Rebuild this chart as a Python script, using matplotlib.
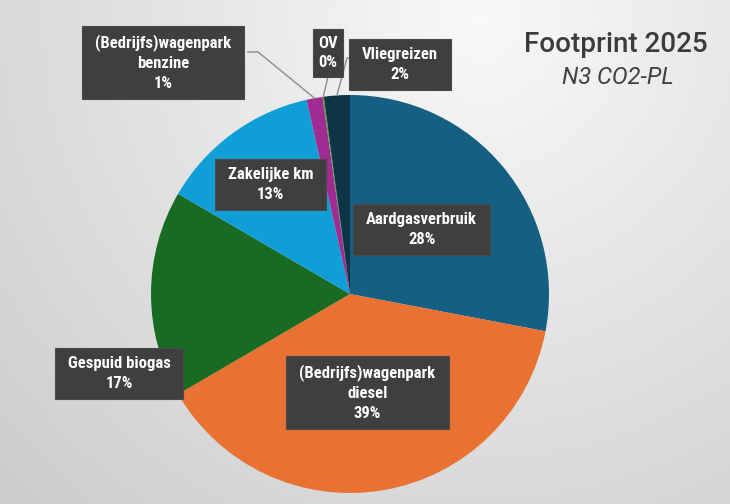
import numpy as np
import matplotlib
matplotlib.use("Agg")
import matplotlib.pyplot as plt
from matplotlib import font_manager
from matplotlib.patches import Rectangle

# data
categories = ["Aardgasverbruik", "(Bedrijfs)wagenpark\ndiesel", "Gespuid biogas",
              "Zakelijke km", "(Bedrijfs)wagenpark\nbenzine", "OV", "Vliegreizen"]
shares = [28.0, 38.6, 16.8, 13.1, 1.3, 0.1, 2.1]
colors = ["#156082", "#E97132", "#196B24", "#0F9ED5", "#A02B93", "#4EA72E", "#0E3448"]

title = "Footprint 2025"
subtitle = "N3 CO2-PL"

# label centres in pie-axes units (radius = 1)
label_pos = [(0.36, 0.325), (0.088, -0.495), (-1.161, -0.399), (-0.399, 0.55),
             (-0.94, 1.163), (-0.111, 1.211), (0.249, 1.153)]
# leader line elbows for the small slices (index -> points before the wedge edge)
leaders = {4: [(-0.513, 1.216), (-0.462, 1.216)],
           5: [(-0.111, 1.09)],
           6: [(0.02, 1.186), (-0.015, 1.186)]}
box_pad = {5: (5, 7)}

# smal lettertype zoeken voor de labels
fonts = font_manager.fontManager.ttflist
names = {f.name for f in fonts}
label_stretch = "normal"
if "Roboto Condensed" in names:
    label_font, label_size = "Roboto Condensed", 12
elif "Liberation Sans Narrow" in names:
    label_font, label_size = "Liberation Sans Narrow", 12
elif any(f.name == "DejaVu Sans" and f.stretch == "condensed" and f.weight in ("bold", 700)
         for f in fonts):
    label_font, label_size, label_stretch = "DejaVu Sans", 10, "condensed"
else:
    label_font, label_size = "DejaVu Sans", 9

W, H = 730, 504
fig = plt.figure(figsize=(W / 100, H / 100), dpi=100)

# achtergrond met radiaal verloop
bg = fig.add_axes([0, 0, 1, 1], zorder=-1)
yy, xx = np.mgrid[0:H, 0:W]
d = np.sqrt((xx - 480) ** 2 + (yy - 20) ** 2) / 660
v = 0.975 - (0.975 - 0.805) * np.clip(d, 0, 1)
bg.imshow(np.dstack([v, v, v]), extent=(0, W, H, 0), aspect="auto")
bg.axis("off")

# pie axes: centre (350, 294) px, radius 199 px
cx, cy, r = 350, 294, 199
ax = fig.add_axes([(cx - r) / W, (H - cy - r) / H, 2 * r / W, 2 * r / H])
wedges, _ = ax.pie(shares, colors=colors, startangle=90, counterclock=False,
                   radius=1, wedgeprops=dict(linewidth=0))
ax.set_aspect("auto")
ax.set_xlim(-1, 1)
ax.set_ylim(-1, 1)
ax.axis("off")

texts = []
for i, (name, share) in enumerate(zip(categories, shares)):
    x, y = label_pos[i]
    t = ax.text(x, y, f"{name}\n{round(share):.0f}%", ha="center", va="center",
                color="white", fontsize=label_size, fontweight="bold",
                fontstretch=label_stretch, family=[label_font, "DejaVu Sans"],
                linespacing=1.4, zorder=6)
    texts.append(t)

# leader lines
for i, pts in leaders.items():
    w = wedges[i]
    mid = np.deg2rad((w.theta1 + w.theta2) / 2)
    pts = pts + [(np.cos(mid) * 1.0, np.sin(mid) * 1.0)]
    xs, ys = zip(*pts)
    ax.plot(xs, ys, color="#8c8c8c", lw=1, clip_on=False, zorder=2)

fig.text(616 / W, 1 - 52 / H, title, ha="center", va="baseline", fontsize=20,
         family="Roboto", fontweight="medium", color="#3b3b3b")
fig.text(618 / W, 1 - 84 / H, subtitle, ha="center", va="baseline", fontsize=17,
         family="Roboto", fontweight="normal", style="italic", color="#404040")

# donkere label-kaders rond de teksten
fig.canvas.draw()
renderer = fig.canvas.get_renderer()
inv = ax.transAxes.inverted()
for i, t in enumerate(texts):
    bb = t.get_window_extent(renderer)
    px, py = box_pad.get(i, (13, 8))
    (x0, y0), (x1, y1) = inv.transform([(bb.x0 - px, bb.y0 - py), (bb.x1 + px, bb.y1 + py)])
    ax.add_patch(Rectangle((x0, y0), x1 - x0, y1 - y0, transform=ax.transAxes,
                           facecolor="#3f3f3f", edgecolor="#4a4a4a", lw=0.8,
                           clip_on=False, zorder=5))

fig.savefig("out.png", dpi=100)
